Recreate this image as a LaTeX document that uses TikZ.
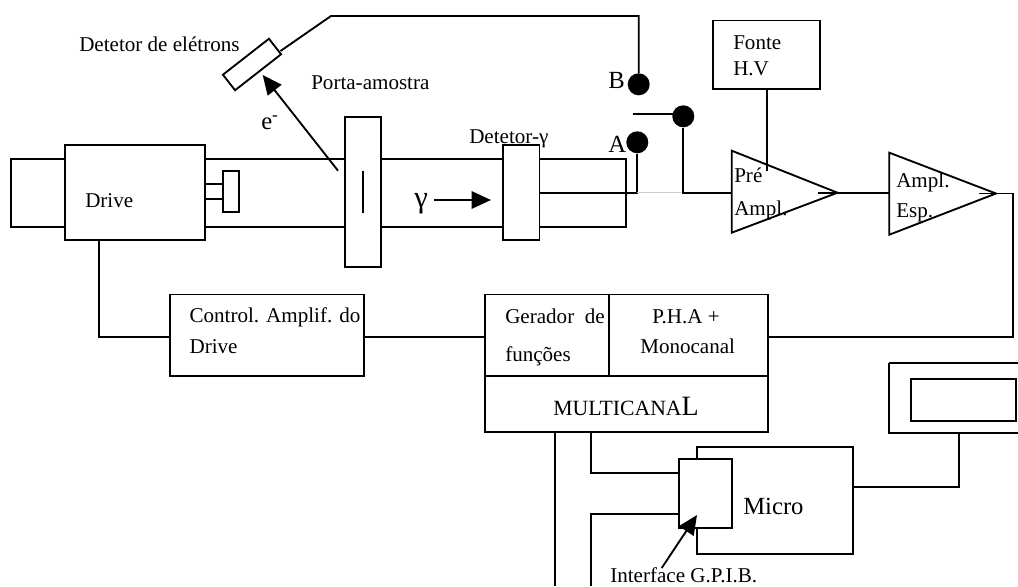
\documentclass[tikz,border=0pt]{standalone}
\usepackage{fontspec}
\setmainfont{Liberation Serif}
\usepackage{tikz}
\usetikzlibrary{arrows.meta,positioning,calc}
\tikzset{
  block/.style={draw=black,line width=1.4pt,fill=white,inner sep=0pt},
  size/.style 2 args={minimum width=#1*.75pt,minimum height=#2*.75pt},
  txt/.style={inner sep=0pt,anchor=base west,font=\fontsize{15.8}{18}\selectfont},
  big/.style={txt,font=\fontsize{18.5}{22}\selectfont},
  dot/.style={circle,fill=black,inner sep=0pt,minimum size=16.5pt},
  wire/.style={line width=1.4pt,draw=black},
  arrow/.style={-{Triangle[length=14.5pt,width=13pt]},line width=1.4pt,draw=black}
}
\begin{document}
\begin{tikzpicture}[x=.75pt,y=-.75pt]
\useasboundingbox (0,0) rectangle (1018,586);
% tube
\node[block,size={54}{68}] (back) at (38,192.7) {};
\node[block,size={420.5}{68}] (tube) at (415.5,192.7) {};
\node[block,size={140.6}{95.6}] (drive) at (135,192.5) {};
\node[block,size={16.3}{41.6}] (rod) at (231.2,191.5) {};
\coordinate (rodA) at (205.3,184.3); \coordinate (rodB) at (205.3,198.7);
\draw[wire] (rodA) -- (rodA -| rod.west);
\draw[wire] (rodB) -- (rodB -| rod.west);
\node[block,size={36}{150}] (holder) at (363.3,191.7) {};
\draw[wire] (363.3,170.7) -- (363.3,212.7);
\node[block,size={36.5}{95.6}] (gamma) at (521.3,192.5) {};
% detetor de eletrons
\node[block,size={58.4}{19.7},rotate=38] (elec) at (252,64.5) {};
\coordinate (elecOut) at (280.5,51);
\coordinate (bend) at (331,16);
% chave
\node[dot] (dotB) at (638.7,84.3) {};
\node[dot] (dotA) at (637.3,142.3) {};
\node[dot] (dotS) at (683.3,116.3) {};
\coordinate (armEnd) at (632.7,114.3);
\coordinate (busA) at (637.3,192.7);
\coordinate (busS) at (683.3,192.7);
\draw[wire] (elecOut) -- (bend) -| (dotB);
\draw[wire] (armEnd) -- (armEnd -| dotS);
\draw[wire] (gamma.east |- busA) -- (busA) -- (dotA);
\draw[gray!40,line width=1pt] (busA) -- (busS);
% amplificadores
\coordinate (preIn) at (731.7,192.7); \coordinate (preOut) at (837.5,192.7);
\coordinate (espIn) at (889.3,192.7); \coordinate (espOut) at (996,193.5);
\draw[wire,line join=miter] (preIn |- 0,150.7) -- (preOut) -- (preIn |- 0,232.7) -- cycle;
\draw[wire,line join=miter] (espIn |- 0,152.7) -- (espOut) -- (espIn |- 0,234.7) -- cycle;
\draw[wire] (dotS) -- (busS) -- (preIn);
\draw[wire] ($(preOut)+(-20,0)$) -- (espIn);
\node[block,size={106.4}{68.2}] (hv) at (766.5,54.6) {};
\draw[wire] (hv.south -| 767.3,0) -- (767.3,170.7);
% blocos de baixo
\node[block,size={194}{81.5}] (ctrl) at (267,335.2) {};
\node[block,size={124.3}{81.5}] (func) at (547.1,335.2) {};
\node[block,size={158.7}{81.5}] (pha) at (688.6,335.2) {};
\node[block,size={283}{56.6}] (multi) at (626.5,404) {};
\coordinate (driveOut) at (99,240.3);
\coordinate (ctrlIn) at (170,336.7);
\coordinate (ctrlOut) at (364,336.7);
\coordinate (funcIn) at (484.9,336.7);
\coordinate (phaOut) at (767.9,336.7);
\coordinate (outR) at (1013,193.5);
\draw[wire] (driveOut) |- (ctrlIn);
\draw[wire] (ctrlOut) -- (funcIn);
\draw[wire] ($(espOut)+(-17,0)$) -- (outR) |- (phaOut);
% micro e monitor
\node[block,size={156.3}{107.3}] (micro) at (775.2,500.7) {};
\node[block,size={52.4}{69.6}] (gpib) at (705.5,493.5) {};
\coordinate (multiA) at (555.3,432.3);
\coordinate (multiB) at (591,432.3);
\coordinate (endA) at (555.3,586);
\coordinate (endB) at (591,586);
\coordinate (gpibA) at (679.3,472.7);
\coordinate (gpibB) at (679.3,514.3);
\draw[wire] (multiA) -- (endA);
\draw[wire] (multiB) |- (gpibA);
\draw[wire] (endB) |- (gpibB);
\draw[wire] (889.3,362.7) -- (1018,362.7);
\draw[wire] (1018,432.7) -- (889.3,432.7) -- (889.3,362.7);
\coordinate (monOut) at (959.3,432.7);
\node[block,size={104.4}{42}] (screen) at (963.5,399.7) {};
\draw[wire] (micro.east |- 0,486.7) -| (monOut);
% setas
\coordinate (elecFrom) at (338,170.7); \coordinate (elecTip) at (262.7,75);
\coordinate (gammaFrom) at (434,200); \coordinate (gammaTip) at (491,200);
\coordinate (gpibFrom) at (661.7,568); \coordinate (gpibTip) at (697,515);
\draw[arrow] (elecFrom) -- (elecTip);
\draw[arrow] (gammaFrom) -- (gammaTip);
\draw[arrow] (gpibFrom) -- (gpibTip);
% textos
\foreach \id/\x/\y/\label in {tDet/79/51/Detetor de elétrons,tPorta/311/89/Porta-amostra,tDrive/85/207/Drive,tGdet/469/143/Detetor-γ,tFonte/733/49/Fonte,tHV/733/75/H.V,tPre/734/182/Pré,tAmpl/734/215/Ampl.,tAmplB/896/187/Ampl.,tEsp/896/217/Esp.,tCtrl/189.3/322/Control. Amplif. do,tDr/189.3/353/Drive,tGer/505/323/Gerador\ \ de,tFun/505/361/funções,tPha/652/323/P.H.A +,tMono/640/353/Monocanal,tInt/610/582/Interface G.P.I.B.}
  \node[txt] (\id) at (\x,\y) {\label};
\node[big] (tE) at (261,129) {e\textsuperscript{-}};
\node[big,font=\fontsize{23}{26}\selectfont] (tG) at (414,207) {γ};
\node[big] (tA) at (608,152.7) {A};
\node[big] (tB) at (608,88) {B};
\node[big] (tMicro) at (743,514) {Micro};
\node[txt] (tMulti) at (553,415) {{\fontsize{16.3}{18}\selectfont MULTICANA}{\fontsize{21}{24}\selectfont L}};
\end{tikzpicture}
\end{document}
